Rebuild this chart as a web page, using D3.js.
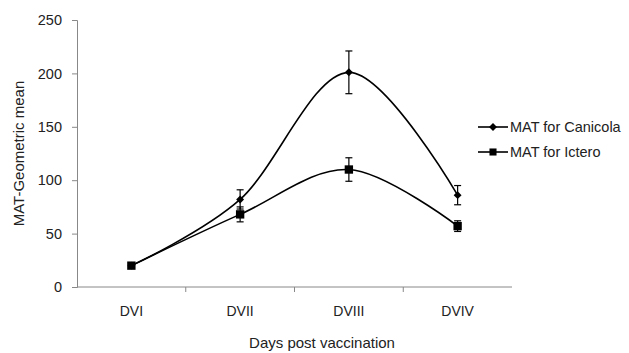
<!DOCTYPE html>
<html>
<head>
<meta charset="utf-8">
<script src="https://cdn.jsdelivr.net/npm/d3@7"></script>
<style>
  body { margin: 0; background: #fff; }
  svg text { font-family: "Liberation Sans", Arial, sans-serif; fill: #222; }
</style>
</head>
<body>
<div id="chart"></div>
<script>
// data
const days = ["DVI", "DVII", "DVIII", "DVIV"];
const canicola = [20, 82, 201, 86];
const canicolaErr = [1, 9, 20, 9];
const ictero = [20, 68, 110, 57];
const icteroErr = [1, 7, 11, 5];
const yTicks = [0, 50, 100, 150, 200, 250];

const W = 629, H = 353;
const margin = {top: 20, right: 117, bottom: 66, left: 77};

const svg = d3.select("#chart").append("svg")
    .attr("width", W)
    .attr("height", H);

const x = d3.scaleBand()
    .domain(days)
    .range([margin.left, W - margin.right]);

const y = d3.scaleLinear()
    .domain([0, 250])
    .range([H - margin.bottom, margin.top]);

// y axis
const yAxis = svg.append("g")
    .attr("transform", `translate(${margin.left},0)`)
    .call(d3.axisLeft(y).tickValues(yTicks).tickSize(5).tickPadding(10));
yAxis.select(".domain").attr("stroke", "#888");
yAxis.selectAll(".tick line").attr("stroke", "#888");
yAxis.selectAll(".tick text").style("font-size", "14.5px");

// x axis: ticks between categories
const xAxis = svg.append("g")
    .attr("transform", `translate(0,${y(0)})`);
xAxis.append("line")
    .attr("x1", margin.left).attr("x2", W - margin.right)
    .attr("stroke", "#888");
xAxis.selectAll(".sep")
    .data(days.slice(1))
    .join("line")
    .attr("x1", d => x(d)).attr("x2", d => x(d))
    .attr("y1", 0).attr("y2", 5)
    .attr("stroke", "#888");
xAxis.selectAll(".lab")
    .data(days)
    .join("text")
    .attr("x", d => x(d) + x.bandwidth() / 2)
    .attr("y", 29)
    .attr("text-anchor", "middle")
    .style("font-size", "14px")
    .text(d => d);

// axis titles
svg.append("text")
    .attr("x", 322)
    .attr("y", 348)
    .attr("text-anchor", "middle")
    .style("font-size", "15px")
    .text("Days post vaccination");

svg.append("text")
    .attr("transform", `translate(24,${(y(0) + y(250)) / 2}) rotate(-90)`)
    .attr("text-anchor", "middle")
    .style("font-size", "15px")
    .text("MAT-Geometric mean");

const cx = d => x(d) + x.bandwidth() / 2;
const line = d3.line()
    .x(d => cx(d.day))
    .y(d => y(d.v))
    .curve(d3.curveCardinal.tension(0));

function drawSeries(values, errs, marker) {
    const pts = days.map((d, i) => ({day: d, v: values[i], e: errs[i]}));
    const g = svg.append("g");
    g.append("path")
        .datum(pts)
        .attr("fill", "none")
        .attr("stroke", "#000")
        .attr("stroke-width", 1.6)
        .attr("d", line);

    // error bars
    const eb = g.selectAll(".err")
        .data(pts.filter(p => p.e > 2))
        .join("g");
    eb.append("line")
        .attr("x1", d => cx(d.day)).attr("x2", d => cx(d.day))
        .attr("y1", d => y(d.v - d.e)).attr("y2", d => y(d.v + d.e))
        .attr("stroke", "#000").attr("stroke-width", 1.2);
    [-1, 1].forEach(s => {
        eb.append("line")
            .attr("x1", d => cx(d.day) - 3.5).attr("x2", d => cx(d.day) + 3.5)
            .attr("y1", d => y(d.v + s * d.e)).attr("y2", d => y(d.v + s * d.e))
            .attr("stroke", "#000").attr("stroke-width", 1.2);
    });

    g.selectAll(".pt")
        .data(pts)
        .join("path")
        .attr("transform", d => `translate(${cx(d.day)},${y(d.v)})`)
        .attr("d", marker)
        .attr("fill", "#000");
}

const diamond = d3.symbol(d3.symbolDiamond2, 40)();
const square = d3.symbol(d3.symbolSquare, 70)();

drawSeries(canicola, canicolaErr, diamond);
drawSeries(ictero, icteroErr, square);

// legend
const legend = [
    {name: "MAT for Canicola", marker: diamond, yy: 127},
    {name: "MAT for Ictero", marker: square, yy: 152}
];
const lg = svg.selectAll(".leg")
    .data(legend)
    .join("g")
    .attr("transform", d => `translate(478,${d.yy})`);
lg.append("line")
    .attr("x1", 0).attr("x2", 30)
    .attr("stroke", "#000").attr("stroke-width", 1.6);
lg.append("path")
    .attr("transform", "translate(15,0)")
    .attr("d", d => d.marker === square ? d3.symbol(d3.symbolSquare, 50)() : d.marker)
    .attr("fill", "#000");
lg.append("text")
    .attr("x", 32)
    .attr("y", 0)
    .attr("dy", "0.35em")
    .style("font-size", "14.5px")
    .text(d => d.name);
</script>
</body>
</html>
